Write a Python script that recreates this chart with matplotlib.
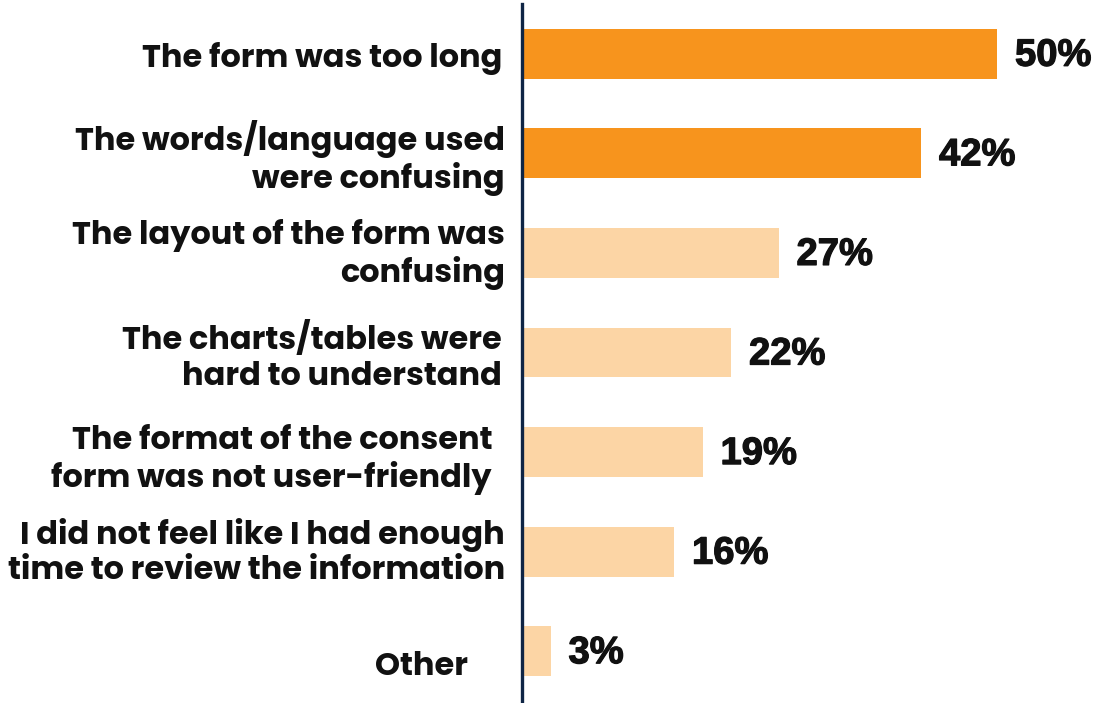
import matplotlib
matplotlib.use("Agg")
from matplotlib import pyplot as plt
from matplotlib import transforms
from matplotlib import font_manager
from matplotlib import patheffects

categories = [
    "The form was too long",
    "The words/language used\nwere confusing",
    "The layout of the form was\nconfusing",
    "The charts/tables were\nhard to understand",
    "The format of the consent\nform was not user-friendly",
    "I did not feel like I had enough\ntime to review the information",
    "Other",
]
values = [50, 42, 27, 22, 19, 16, 3]
highlight = [True, True, False, False, False, False, False]

# nudges (in pixels) for the category labels
label_dx = [-3, 0, 0, -3, -13, 0, -37]
label_dy = [-5, -4.5, -1.5, -4.5, -7.5, -1, -16]

ORANGE = "#F7941D"
LIGHT = "#FCD5A5"
NAVY = "#0F2545"


def find_font(name, weight, size, fallback):
    for f in font_manager.fontManager.ttflist:
        if f.name == name and f.weight == weight and f.style == "normal" \
                and f.stretch == "normal" and "Narrow" not in f.fname:
            return font_manager.FontProperties(fname=f.fname, size=size)
    return fallback


label_font = find_font("Poppins", 700, 23,
                       font_manager.FontProperties(family="DejaVu Sans", weight="bold", size=20.5))
pct_font = find_font("Liberation Sans", 700, 27.5,
                     font_manager.FontProperties(family="DejaVu Sans", weight="bold", size=26))

W, H, DPI = 1097, 703, 100
fig = plt.figure(figsize=(W / DPI, H / DPI), dpi=DPI)
ax = fig.add_axes([522 / W, 2 / H, 570 / W, 697 / H])

y = list(range(len(categories)))
colors = [ORANGE if h else LIGHT for h in highlight]
ax.barh(y, values, height=0.5, color=colors, zorder=2)

ax.set_xlim(0, 60)
ax.set_ylim(len(categories) - 0.5, -0.5)

for s in ["top", "right", "bottom"]:
    ax.spines[s].set_visible(False)
ax.spines["left"].set_color(NAVY)
ax.spines["left"].set_linewidth(2.4)
ax.spines["left"].set_zorder(3)
ax.set_xticks([])
ax.set_yticks([])

bolder = [patheffects.withStroke(linewidth=0.9, foreground="#111111")]

for i, (cat, v) in enumerate(zip(categories, values)):
    off = transforms.offset_copy(ax.transData, fig=fig,
                                 x=(-17 + label_dx[i]) * 72 / DPI,
                                 y=label_dy[i] * 72 / DPI, units="points")
    ax.text(0, i, cat, transform=off, ha="right", va="center",
            multialignment="right", fontproperties=label_font,
            color="#111111", linespacing=1.15)
    voff = transforms.offset_copy(ax.transData, fig=fig,
                                  x=18 * 72 / DPI, y=-2 * 72 / DPI, units="points")
    ax.text(v, i, f"{v}%", transform=voff, ha="left", va="center",
            fontproperties=pct_font, color="#111111", path_effects=bolder)

fig.savefig("out.png", dpi=DPI)
